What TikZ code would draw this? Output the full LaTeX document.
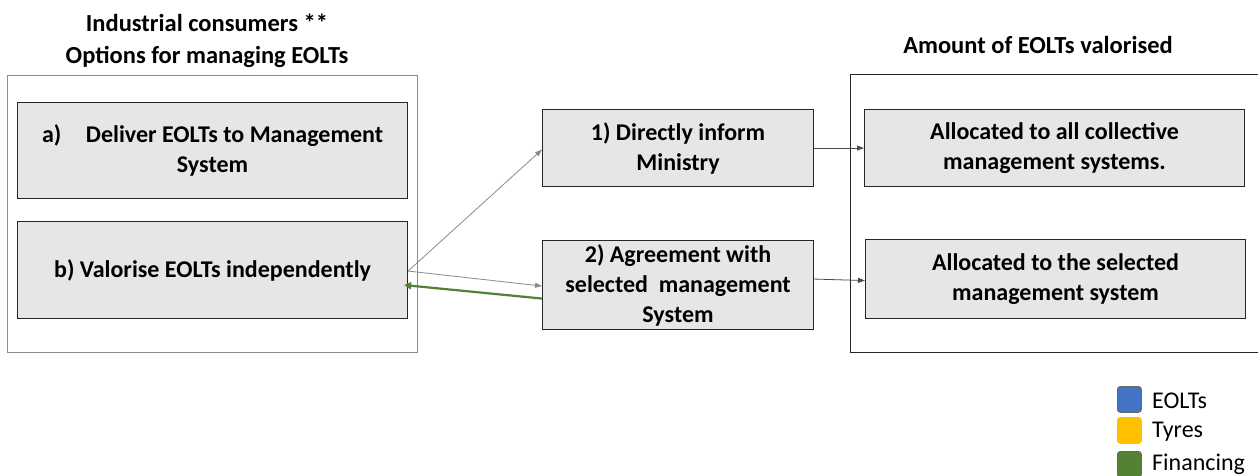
\documentclass[tikz,border=0pt]{standalone}
\usepackage{fontspec}
\setmainfont{Carlito}
\usetikzlibrary{arrows.meta}
\definecolor{boxfill}{HTML}{E7E6E6}
\definecolor{framegray}{HTML}{8C8C8C}
\definecolor{linkgray}{HTML}{8A8A8A}
\definecolor{fingreen}{HTML}{548235}
\definecolor{eoltblue}{HTML}{4472C4}
\definecolor{tyreyellow}{HTML}{FFC000}
\tikzset{
  txt/.style={font=\fontsize{24.5}{32}\selectfont\bfseries, align=center, inner sep=0pt},
  stepbox/.style={draw=black!85, fill=boxfill, line width=1.1pt, anchor=north west,
    font=\fontsize{24}{30}\selectfont\bfseries, align=center, inner sep=0pt},
  frame/.style={draw=framegray, line width=1pt, anchor=north west, inner sep=0pt},
  link/.style={draw=linkgray, line width=0.8pt, -{Triangle[length=7pt,width=5pt]}},
  finlink/.style={draw=fingreen, line width=2.2pt, -{Triangle[length=7pt,width=7pt]}},
  swatch/.style={draw=black!60, line width=0.8pt, rounded corners=3pt, anchor=north west,
    minimum width=24pt, minimum height=26pt, inner sep=0pt},
  legtxt/.style={font=\fontsize{24}{28}\selectfont, anchor=west, inner sep=0pt}
}
\begin{document}
\begin{tikzpicture}[x=1pt,y=-1pt]
\useasboundingbox (0,0) rectangle (1258,475);
\fill[white] (0,0) rectangle (1258,475);
\begin{scope}
\clip (0,0) rectangle (1258,475);
% headings
\node[txt] (ltitle) at (207,41) {Industrial consumers **\\Options for managing EOLTs};
\node[txt] (rtitle) at (1038,45) {Amount of EOLTs valorised};
% enclosing frames
\node[frame, minimum width=410pt, minimum height=277pt] (lframe) at (7,75) {};
\node[frame, draw=black!85, minimum width=420pt, minimum height=278pt] (rframe) at (850,74) {};
% options
\node[stepbox, minimum width=390pt, minimum height=96pt] (a) at (17,102)
  {a)\hspace{0.8em} Deliver EOLTs to Management\\System};
\node[stepbox, minimum width=390pt, minimum height=97pt] (b) at (17,221)
  {b) Valorise EOLTs independently};
% routes
\node[stepbox, minimum width=271pt, minimum height=77pt] (r1) at (542,109)
  {1) Directly inform\\Ministry};
\node[stepbox, minimum width=271pt, minimum height=89pt] (r2) at (542,240)
  {2) Agreement with\\selected\ \ management\\System};
% allocation
\node[stepbox, minimum width=380pt, minimum height=77pt] (al1) at (864,109)
  {Allocated to all collective\\management systems.};
\node[stepbox, minimum width=380pt, minimum height=79pt] (al2) at (865,239)
  {Allocated to the selected\\management system};
% connectors
\coordinate (bout) at ([yshift=-1pt]b.east);
\draw[link] (bout) -- ([yshift=-1.5pt]r1.west);
\draw[link] (bout) -- ([yshift=-1pt]r2.west);
\draw[finlink] ([yshift=-13.5pt]r2.west) -- ([yshift=-15pt,xshift=-4pt]b.east);
\draw[link, draw=black!70] (r1.east) -- (al1.west);
\draw[link, draw=black!70] (r2.east |- al2.west) -- ([yshift=-1.5pt]al2.west);
% legend
\node[swatch, fill=eoltblue] (k1) at (1117,386) {};
\node[swatch, fill=tyreyellow, draw=tyreyellow] (k2) at (1117,417) {};
\node[swatch, fill=fingreen] (k3) at (1117,451) {};
\node[legtxt] (t1) at (1152,401) {EOLTs};
\node[legtxt] (t2) at (1152,432) {Tyres};
\node[legtxt] (t3) at (1152,464) {Financing};
\end{scope}
\end{tikzpicture}
\end{document}
